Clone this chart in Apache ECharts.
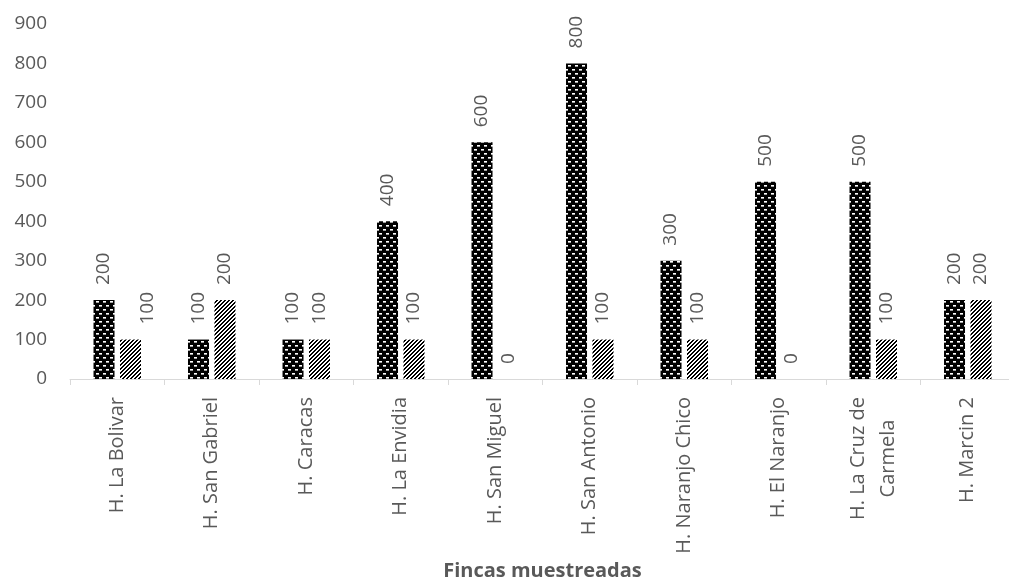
<!DOCTYPE html>
<html>
<head>
<meta charset="utf-8">
<script src="https://cdn.jsdelivr.net/npm/echarts@6/dist/echarts.min.js"></script>
<style>
  html, body { margin: 0; padding: 0; background: #ffffff; }
  #chart { width: 1009px; height: 581px; }
</style>
</head>
<body>
<div id="chart"></div>
<script>
// Farms sampled (category axis)
const fincas = [
  'H. La Bolivar', 'H. San Gabriel', 'H. Caracas', 'H. La Envidia', 'H. San Miguel',
  'H. San Antonio', 'H. Naranjo Chico', 'H. El Naranjo', 'H. La Cruz de\nCarmela', 'H. Marcin 2'
];
// Two measured series per farm
const serieA = [200, 100, 100, 400, 600, 800, 300, 500, 500, 200];
const serieB = [100, 200, 100, 100, 0, 100, 100, 0, 100, 200];
// Value axis ticks
const yMin = 0, yMax = 900, yStep = 100;

const FONT = '"Open Sans", "Liberation Sans", sans-serif';
const GREY = '#595959';

// Black fill with small white dashes in a brick layout
function brickPattern() {
  const c = document.createElement('canvas');
  c.width = 7; c.height = 8;
  const g = c.getContext('2d');
  g.fillStyle = '#000'; g.fillRect(0, 0, 7, 8);
  g.fillStyle = '#ffffff';
  g.fillRect(1, 1, 3, 1);
  g.fillRect(5, 5, 2, 1);
  g.fillRect(0, 5, 1, 1);
  g.fillStyle = '#a0a0a0';
  g.fillRect(1, 2, 3, 1);
  g.fillRect(5, 6, 2, 1);
  g.fillRect(0, 6, 1, 1);
  return c;
}
// White fill with bold upward diagonal stripes
function diagPattern() {
  const c = document.createElement('canvas');
  c.width = 4; c.height = 4;
  const g = c.getContext('2d');
  const img = g.createImageData(4, 4);
  for (let y = 0; y < 4; y++) {
    for (let x = 0; x < 4; x++) {
      const v = ((x + y) % 4) < 2 ? 0 : 255;
      const i = (y * 4 + x) * 4;
      img.data[i] = v; img.data[i + 1] = v; img.data[i + 2] = v; img.data[i + 3] = 255;
    }
  }
  g.putImageData(img, 0, 0);
  return c;
}

const valueLabel = {
  show: true,
  position: 'top',
  rotate: 90,
  align: 'left',
  verticalAlign: 'middle',
  distance: 15,
  color: GREY,
  fontFamily: FONT,
  fontSize: 19
};

// the first label of the striped series sits a little to the right
const serieBData = serieB.map((v, i) => i === 0 ? { value: v, label: { offset: [0, 17] } } : v);

const chart = echarts.init(document.getElementById('chart'), null, { renderer: 'canvas' });
chart.setOption({
  animation: false,
  backgroundColor: '#ffffff',
  grid: { left: 70, top: 24, width: 945, height: 355, containLabel: false, outerBoundsMode: 'none' },
  xAxis: {
    type: 'category',
    data: fincas,
    axisLine: { lineStyle: { color: '#d9d9d9', width: 1 } },
    axisTick: { show: true, length: 6, interval: 0, lineStyle: { color: '#d9d9d9' } },
    axisLabel: {
      interval: 0,
      rotate: 90,
      margin: 18,
      color: GREY,
      fontFamily: FONT,
      fontSize: 20,
      lineHeight: 30,
      formatter: v => v.split('\n').map(s => '{c|' + s + '}').join('\n'),
      rich: { c: { align: 'center', color: GREY, fontFamily: FONT, fontSize: 20, lineHeight: 30 } }
    },
    name: 'Fincas muestreadas',
    nameLocation: 'middle',
    nameGap: 182,
    nameTextStyle: { color: GREY, fontFamily: FONT, fontSize: 20, fontWeight: 'bold' }
  },
  yAxis: {
    type: 'value',
    min: yMin, max: yMax, interval: yStep,
    axisLine: { show: false },
    axisTick: { show: false },
    splitLine: { show: false },
    axisLabel: { color: GREY, fontFamily: FONT, fontSize: 19, margin: 23 }
  },
  series: [
    {
      type: 'bar',
      data: serieA,
      barWidth: 21,
      barGap: '26%',
      itemStyle: { color: { image: brickPattern(), repeat: 'repeat' } },
      label: valueLabel
    },
    {
      type: 'bar',
      data: serieBData,
      barWidth: 21,
      barGap: '26%',
      itemStyle: { color: { image: diagPattern(), repeat: 'repeat' } },
      label: valueLabel
    }
  ]
});
</script>
</body>
</html>
